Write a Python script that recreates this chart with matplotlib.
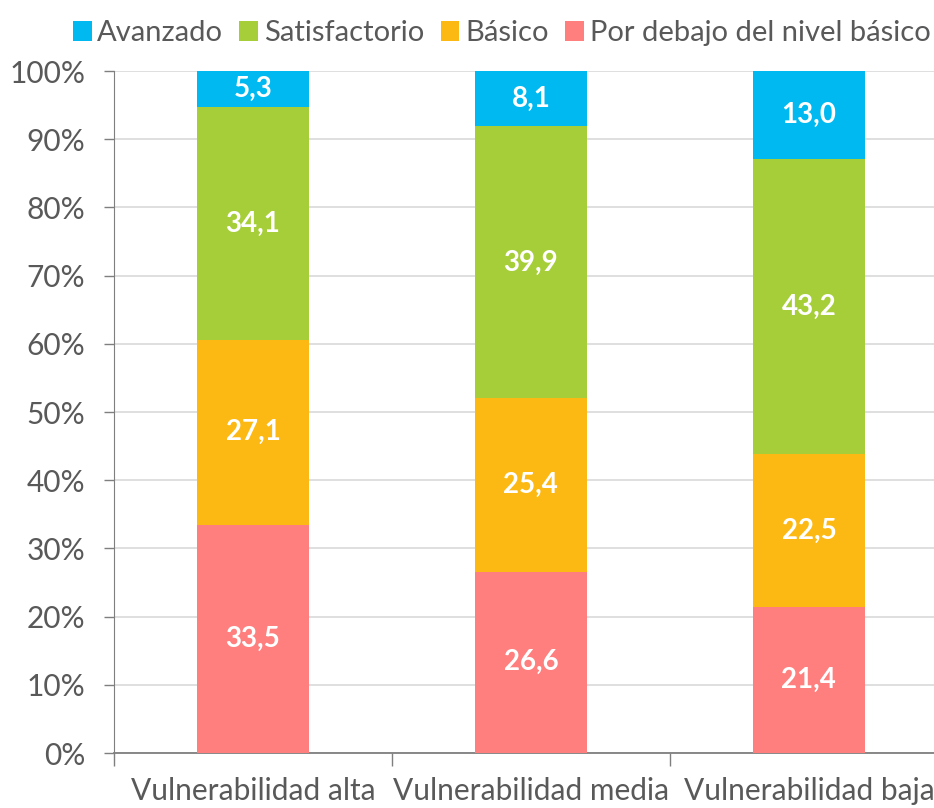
import numpy as np
import matplotlib.pyplot as plt

categorias = ["Vulnerabilidad alta", "Vulnerabilidad media", "Vulnerabilidad baja"]
niveles = ["Por debajo del nivel básico", "Básico", "Satisfactorio", "Avanzado"]
por_debajo = [33.5, 26.6, 21.4]
basico = [27.1, 25.4, 22.5]
satisfactorio = [34.1, 39.9, 43.2]
avanzado = [5.3, 8.1, 13.0]
colores = ["#FF7F7F", "#FDB913", "#A6CE39", "#00B9F1"]

series = [por_debajo, basico, satisfactorio, avanzado]
gris = "#595959"

fig = plt.figure(figsize=(9.34, 8.08), dpi=100)
ax = fig.add_axes([0.122, 0.068, 0.878, 0.844])

x = np.arange(len(categorias))
bottom = np.zeros(len(categorias))
handles = []
for vals, color, nombre in zip(series, colores, niveles):
    vals = np.array(vals)
    h = ax.bar(x, vals, 0.4, bottom=bottom, color=color, label=nombre, zorder=3)
    handles.append(h)
    for xi, b, v in zip(x, bottom, vals):
        top = min(b + v, 100)
        ax.text(xi, (b + top) / 2, f"{v:.1f}".replace(".", ","), ha="center", va="center",
                color="white", fontsize=20, fontweight="bold", family="Lato", zorder=4)
    bottom += vals

ax.set_yticks(np.arange(0, 101, 10))
ax.set_yticklabels([f"{t}%" for t in range(0, 101, 10)], fontsize=21.5, color=gris, family="Lato")
ax.yaxis.grid(True, color="#D9D9D9", linewidth=1.2, zorder=0)
ax.set_axisbelow(True)

ax.set_xticks([-0.5, 0.5, 1.5, 2.5])
ax.set_xticklabels([])
ax.set_ylim(0, 100)
ax.set_xlim(-0.5, 2.45)
ax.tick_params(axis="x", length=9, color="#7F7F7F", width=1)
ax.tick_params(axis="y", length=7.5, color="#7F7F7F", width=1, pad=13)
for i, c in enumerate(categorias):
    ax.text(i, -3.5, c, ha="center", va="top", fontsize=21.5, color=gris, family="Lato")

for s in ["top", "right"]:
    ax.spines[s].set_visible(False)
ax.spines["left"].set_color("#7F7F7F")
ax.spines["bottom"].set_color("#7F7F7F")
ax.spines["bottom"].set_linewidth(1.3)

leg = fig.legend(handles[::-1], niveles[::-1], loc="upper right", bbox_to_anchor=(1.018, 1.0),
                 ncol=4, frameon=False, handlelength=0.65, handleheight=0.65,
                 handletextpad=0.2, columnspacing=0.55, borderaxespad=0.3,
                 prop={"family": "Lato", "size": 21})
for t in leg.get_texts():
    t.set_color(gris)

fig.savefig("out.png", dpi=100)
